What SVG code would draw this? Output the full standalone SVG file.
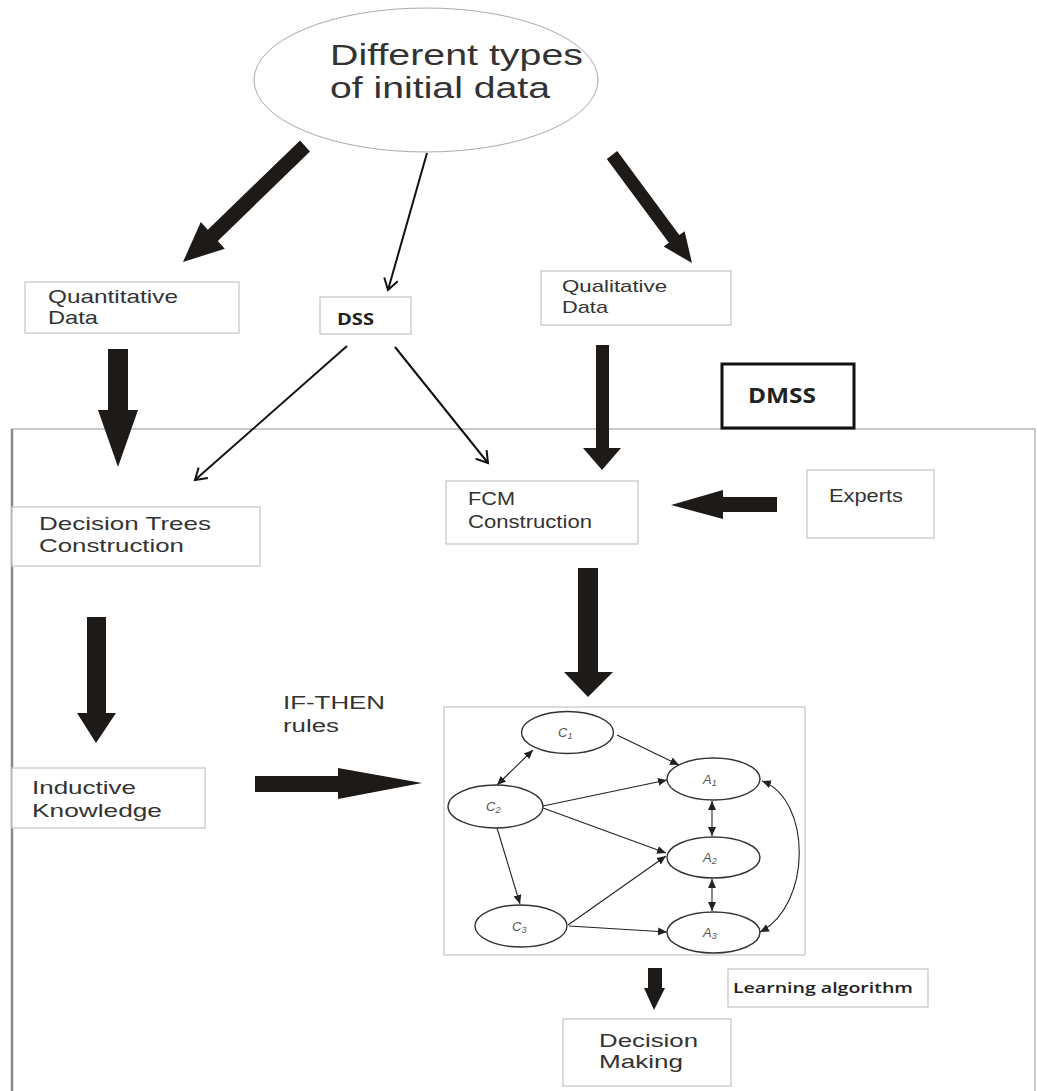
<svg xmlns="http://www.w3.org/2000/svg" width="1037" height="1091" viewBox="0 0 1037 1091">
<style>
.box{fill:#fff;stroke:#c8c8c8;stroke-width:1.3}
.t{font-family:"Liberation Sans",Arial,sans-serif;fill:#333}
.c{font-family:"Open Sans","Liberation Sans",sans-serif;fill:#222;font-weight:bold}
.blk{fill:#1e1a18}
.thin{stroke:#111;stroke-width:2;fill:none}
.g{stroke:#222;stroke-width:1.1;fill:none}
.gn{fill:#fff;stroke:#333;stroke-width:1.4}
.gl{font-family:"Liberation Sans",Arial,sans-serif;font-style:italic;font-size:13px;fill:#555}
</style>
<defs>
<marker id="open" markerWidth="16" markerHeight="16" refX="13" refY="8" orient="auto" markerUnits="userSpaceOnUse">
<path d="M2,1 L13,8 L2,15" fill="none" stroke="#111" stroke-width="2"/>
</marker>
<marker id="tri" markerWidth="10" markerHeight="10" refX="9" refY="5" orient="auto-start-reverse" markerUnits="userSpaceOnUse">
<path d="M0,1 L9,5 L0,9 Z" fill="#222"/>
</marker>
</defs>
<rect width="1037" height="1091" fill="#fff"/>

<g id="frame">
<path d="M12,1091 L12,429 L1035,429 L1035,1091" fill="none" stroke="#b8b8b8" stroke-width="1.5"/>
<line x1="12" y1="429" x2="12" y2="1091" stroke="#8a8a8a" stroke-width="2.5"/>
</g>

<g id="connectors">
<polygon class="blk" points="310,151.6 217.8,240.9 224.8,248.7 183,262 200.8,221.9 207.8,229.7 300,140.4"/>
<polygon class="blk" points="606.8,158.9 668.9,242.8 663.6,246.6 692,263 684.6,231.2 679.3,235 617.2,151.1"/>
<line class="thin" x1="427" y1="153" x2="388" y2="290" marker-end="url(#open)"/>
<polygon class="blk" points="108,349 128,349 128,410 138,410 118,467 98,410 108,410"/>
<line class="thin" x1="347" y1="346" x2="195" y2="480" marker-end="url(#open)"/>
<line class="thin" x1="395" y1="347" x2="488" y2="463" marker-end="url(#open)"/>
<polygon class="blk" points="596,345 609,345 609,448 621,448 602,470 583,448 596,448"/>
<polygon class="blk" points="777,497 777,512 723,512 723,519 671,505 723,490 723,497"/>
<polygon class="blk" points="578,568 598,568 598,672 613,672 588,697 564,672 578,672"/>
<polygon class="blk" points="87,617 106,617 106,713 116,713 96,743 77,713 87,713"/>
<polygon class="blk" points="255,776 338,776 338,768 422,783 338,799 338,792 255,792"/>
<polygon class="blk" points="648,968 662,968 662,988 665,988 654,1010 644,988 648,988"/>
</g>

<g id="n-title">
<ellipse cx="426" cy="80" rx="172" ry="72" fill="#fff" stroke="#aaa" stroke-width="1"/>
<text class="t" x="330" y="65" font-size="29" textLength="253" lengthAdjust="spacingAndGlyphs">Different types</text>
<text class="t" x="330" y="98" font-size="29" textLength="220" lengthAdjust="spacingAndGlyphs">of initial data</text>
</g>

<g id="n-quant">
<rect class="box" x="25" y="282" width="214" height="51"/>
<text class="t" x="48" y="303" font-size="19" textLength="130" lengthAdjust="spacingAndGlyphs">Quantitative</text>
<text class="t" x="48" y="324" font-size="19" textLength="50" lengthAdjust="spacingAndGlyphs">Data</text>
</g>

<g id="n-dss">
<rect class="box" x="320" y="297" width="91" height="37"/>
<text class="c" x="337" y="325" font-size="16" textLength="37" lengthAdjust="spacingAndGlyphs">DSS</text>
</g>

<g id="n-qual">
<rect class="box" x="541" y="271" width="190" height="54"/>
<text class="t" x="562" y="292" font-size="17" textLength="105" lengthAdjust="spacingAndGlyphs">Qualitative</text>
<text class="t" x="562" y="313" font-size="17" textLength="46" lengthAdjust="spacingAndGlyphs">Data</text>
</g>

<g id="n-dmss">
<rect x="722" y="364" width="132" height="64" fill="#fff" stroke="#111" stroke-width="3"/>
<text class="c" x="748" y="403" font-size="21" textLength="68" lengthAdjust="spacingAndGlyphs">DMSS</text>
</g>

<g id="n-dtree">
<rect class="box" x="12" y="507" width="248" height="59"/>
<text class="t" x="39" y="530" font-size="19" textLength="172" lengthAdjust="spacingAndGlyphs">Decision Trees</text>
<text class="t" x="39" y="552" font-size="19" textLength="145" lengthAdjust="spacingAndGlyphs">Construction</text>
</g>

<g id="n-fcm">
<rect class="box" x="446" y="481" width="192" height="63"/>
<text class="t" x="468" y="505" font-size="18" textLength="47" lengthAdjust="spacingAndGlyphs">FCM</text>
<text class="t" x="468" y="528" font-size="18" textLength="124" lengthAdjust="spacingAndGlyphs">Construction</text>
</g>

<g id="n-experts">
<rect class="box" x="807" y="470" width="127" height="68"/>
<text class="t" x="829" y="502" font-size="18" textLength="74" lengthAdjust="spacingAndGlyphs">Experts</text>
</g>

<g id="n-inductive">
<rect class="box" x="12" y="768" width="193" height="60"/>
<text class="t" x="32" y="794" font-size="19" textLength="104" lengthAdjust="spacingAndGlyphs">Inductive</text>
<text class="t" x="32" y="817" font-size="19" textLength="130" lengthAdjust="spacingAndGlyphs">Knowledge</text>
</g>

<g id="n-ifthen">
<text class="t" x="283" y="709" font-size="18" textLength="102" lengthAdjust="spacingAndGlyphs">IF-THEN</text>
<text class="t" x="283" y="732" font-size="18" textLength="56" lengthAdjust="spacingAndGlyphs">rules</text>
</g>

<g id="n-graph">
<rect class="box" x="444" y="707" width="361" height="248"/>
<g id="graph-edges">
<line class="g" x1="617" y1="735" x2="679" y2="765" marker-end="url(#tri)"/>
<line class="g" x1="533" y1="750" x2="497" y2="785" marker-start="url(#tri)" marker-end="url(#tri)"/>
<line class="g" x1="543" y1="806" x2="667" y2="780" marker-end="url(#tri)"/>
<line class="g" x1="543" y1="808" x2="666" y2="853" marker-end="url(#tri)"/>
<line class="g" x1="497" y1="828" x2="520" y2="904" marker-end="url(#tri)"/>
<line class="g" x1="568" y1="925" x2="666" y2="856" marker-end="url(#tri)"/>
<line class="g" x1="569" y1="926" x2="667" y2="932" marker-end="url(#tri)"/>
<line class="g" x1="712" y1="801" x2="712" y2="836" marker-start="url(#tri)" marker-end="url(#tri)"/>
<line class="g" x1="712" y1="879" x2="712" y2="911" marker-start="url(#tri)" marker-end="url(#tri)"/>
<path class="g" d="M762,781 C812,800 812,905 760,932" marker-start="url(#tri)" marker-end="url(#tri)"/>
</g>
<g id="gn-c1"><ellipse class="gn" cx="567.5" cy="732.5" rx="46" ry="21"/><text class="gl" x="558" y="737">C<tspan font-size="9" dy="2">1</tspan></text></g>
<g id="gn-a1"><ellipse class="gn" cx="713.5" cy="779" rx="46.5" ry="21"/><text class="gl" x="703" y="784">A<tspan font-size="9" dy="2">1</tspan></text></g>
<g id="gn-c2"><ellipse class="gn" cx="495.5" cy="806.5" rx="47.5" ry="21.5"/><text class="gl" x="486" y="811">C<tspan font-size="9" dy="2">2</tspan></text></g>
<g id="gn-a2"><ellipse class="gn" cx="713.5" cy="857.5" rx="46.5" ry="20.5"/><text class="gl" x="703" y="862">A<tspan font-size="9" dy="2">2</tspan></text></g>
<g id="gn-c3"><ellipse class="gn" cx="521" cy="926" rx="46" ry="21"/><text class="gl" x="512" y="931">C<tspan font-size="9" dy="2">3</tspan></text></g>
<g id="gn-a3"><ellipse class="gn" cx="713.5" cy="932.5" rx="46.5" ry="20.5"/><text class="gl" x="703" y="937">A<tspan font-size="9" dy="2">3</tspan></text></g>
</g>

<g id="n-learning">
<rect class="box" x="728" y="969" width="200" height="38"/>
<text class="c" x="733" y="993" font-size="15" textLength="180" lengthAdjust="spacingAndGlyphs" style="font-weight:600">Learning algorithm</text>
</g>

<g id="n-decision">
<rect class="box" x="563" y="1019" width="168" height="67"/>
<text class="t" x="599" y="1047" font-size="19" textLength="99" lengthAdjust="spacingAndGlyphs">Decision</text>
<text class="t" x="599" y="1068" font-size="19" textLength="84" lengthAdjust="spacingAndGlyphs">Making</text>
</g>
</svg>
